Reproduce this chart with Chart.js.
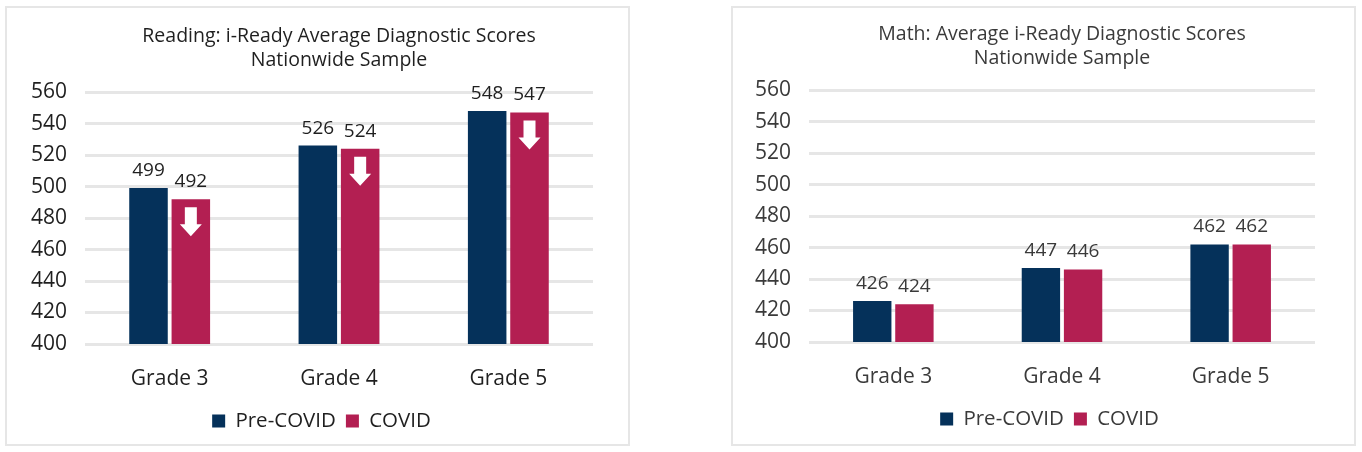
<!DOCTYPE html>
<html>
<head>
<meta charset="utf-8">
<script src="https://cdn.jsdelivr.net/npm/chart.js@4.4.1/dist/chart.umd.min.js"></script>
<style>
  html, body { margin: 0; padding: 0; background: #fff; }
  body { width: 1362px; height: 452px; position: relative; overflow: hidden; }
  .box { position: absolute; top: 6px; width: 621px; height: 436px; border: 2px solid #e6e6e6; }
  #box-reading { left: 5px; }
  #box-math { left: 731px; }
  canvas { display: block; }
</style>
</head>
<body>
<div class="box" id="box-reading"><canvas id="chart-reading" width="621" height="436"></canvas></div>
<div class="box" id="box-math"><canvas id="chart-math" width="621" height="436"></canvas></div>

<script>
// ── Data ─────────────────────────────────
const grades        = ['Grade 3', 'Grade 4', 'Grade 5'];
const seriesNames   = ['Pre-COVID', 'COVID'];
const readingPre    = [499, 526, 548];
const readingCovid  = [492, 524, 547];
const mathPre       = [426, 447, 462];
const mathCovid     = [424, 446, 462];
const yMin = 400, yMax = 560, yStep = 20;

const NAVY    = '#05315a';
const CRIMSON = '#b31f52';
const FONT    = "'Open Sans', sans-serif";

// ── Value labels above each bar ──────────
const valueLabels = {
  id: 'valueLabels',
  afterDatasetsDraw(chart, args, opts) {
    const ctx = chart.ctx;
    ctx.save();
    ctx.font = '19px ' + FONT;
    ctx.fillStyle = opts.color;
    ctx.textAlign = 'center';
    ctx.textBaseline = 'bottom';
    chart.data.datasets.forEach((ds, i) => {
      chart.getDatasetMeta(i).data.forEach((bar, j) => {
        ctx.fillText(String(ds.data[j]), bar.x, bar.y - 8);
      });
    });
    ctx.restore();
  }
};

// ── White "down" arrows inside the COVID bars ─
const downArrows = {
  id: 'downArrows',
  afterDatasetsDraw(chart, args, opts) {
    if (!opts.show) return;
    const ctx = chart.ctx;
    ctx.save();
    ctx.fillStyle = '#fff';
    chart.getDatasetMeta(1).data.forEach(bar => {
      const x = bar.x, t = bar.y + 8;
      ctx.beginPath();
      ctx.moveTo(x - 6, t);
      ctx.lineTo(x + 6, t);
      ctx.lineTo(x + 6, t + 17);
      ctx.lineTo(x + 11, t + 17);
      ctx.lineTo(x, t + 29);
      ctx.lineTo(x - 11, t + 17);
      ctx.lineTo(x - 6, t + 17);
      ctx.closePath();
      ctx.fill();
    });
    ctx.restore();
  }
};

// ── Let y tick labels spill into the left padding (no clipping) ─
const unclipY = {
  id: 'unclipY',
  afterLayout(chart) { chart.scales.y.left = 0; }
};

// ── Chart builder ────────────────────────
// title is laid out over the plot area only (fullSize false), legend over the padded width
function makeChart(id, title, pre, covid, o) {
  return new Chart(document.getElementById(id), {
    type: 'bar',
    data: {
      labels: grades,
      datasets: [
        { label: seriesNames[0], data: pre,   backgroundColor: NAVY },
        { label: seriesNames[1], data: covid, backgroundColor: CRIMSON },
      ],
    },
    plugins: [valueLabels, downArrows, unclipY],
    options: {
      responsive: false,
      animation: false,
      devicePixelRatio: 1,
      categoryPercentage: 0.5,
      barPercentage: 0.91,
      layout: { padding: { top: 0, left: o.padLeft, right: o.padRight, bottom: o.padBottom } },
      plugins: {
        title: {
          display: true, text: title, color: o.color, fullSize: false,
          font: { family: FONT, size: 19.5, weight: 'normal', lineHeight: 1.22 },
          padding: { top: o.titleTop, bottom: o.titleBottom },
        },
        legend: {
          position: 'bottom',
          labels: { color: o.color, boxWidth: 13, boxHeight: 13, padding: 10, font: { family: FONT, size: 20.5 } },
        },
        tooltip: { enabled: false },
        valueLabels: { color: o.color },
        downArrows: { show: o.arrows },
      },
      scales: {
        x: {
          grid: { display: false }, border: { display: false },
          ticks: { color: o.color, padding: 14, font: { family: FONT, size: 21 } },
          afterFit: s => { s.height = 56.75; },
        },
        y: {
          min: yMin, max: yMax,
          grid: { color: '#e6e6e6', lineWidth: 3, drawTicks: false },
          border: { display: false },
          ticks: { stepSize: yStep, color: o.color, padding: 18, font: { family: FONT, size: 21 } },
          afterFit: s => { s.width = o.yWidth; },
        },
      },
    },
  });
}

Chart.defaults.font.family = FONT;

makeChart('chart-reading', ['Reading: i-Ready Average Diagnostic Scores', 'Nationwide Sample'],
  readingPre, readingCovid,
  { color: '#1f1f1f', arrows: true, padLeft: 43, padRight: 35, padBottom: 2.75,
    titleTop: 17, titleBottom: 19.5, yWidth: 35 });

makeChart('chart-math', ['Math: Average i-Ready Diagnostic Scores', 'Nationwide Sample'],
  mathPre, mathCovid,
  { color: '#3a3a3a', arrows: false, padLeft: 51, padRight: 39, padBottom: 4.75,
    titleTop: 15, titleBottom: 19.5, yWidth: 25 });
</script>
</body>
</html>
